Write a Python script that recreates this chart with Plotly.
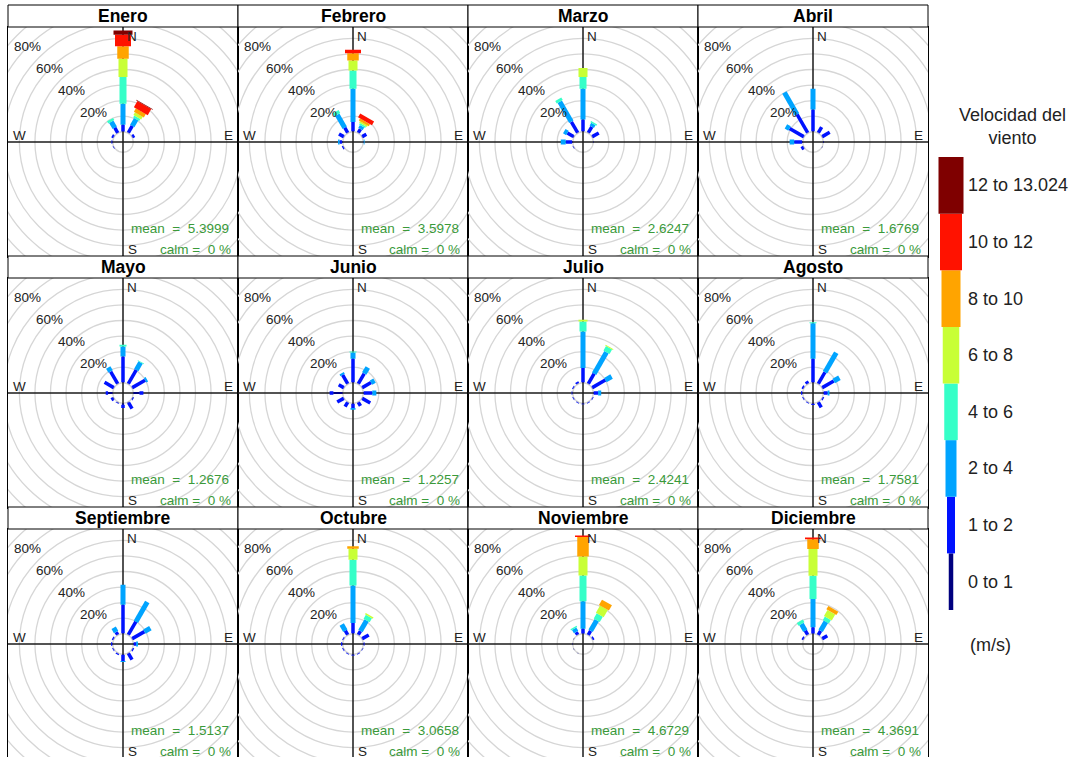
import math
import plotly.graph_objects as go

# ---------------- data ----------------
months = ["Enero", "Febrero", "Marzo", "Abril", "Mayo", "Junio", "Julio",
          "Agosto", "Septiembre", "Octubre", "Noviembre", "Diciembre"]
mean_speed = [5.3999, 3.5978, 2.6247, 1.6769, 1.2676, 1.2257, 2.4241,
              1.7581, 1.5137, 3.0658, 4.6729, 4.3691]
calm_pct = [0, 0, 0, 0, 0, 0, 0, 0, 0, 0, 0, 0]
directions = [0, 30, 60, 90, 120, 150, 180, 210, 240, 270, 300, 330]
speed_bins = ["0 to 1", "1 to 2", "2 to 4", "4 to 6", "6 to 8",
              "8 to 10", "10 to 12", "12 to 13.024"]
bin_colors = ["#00007F", "#0012FF", "#00A4FF", "#36FFC8", "#C8FF36",
              "#FFA400", "#FF1200", "#7F0000"]
grid_pct = [0, 10, 20, 30, 40, 50, 60, 70, 80, 90, 100, 110]
ring_labels = [20, 40, 60, 80]

# frequency (%) per direction (rows: 0,30,...,330 deg) and speed bin (columns)
enero = [
    [0.2, 4.3, 13.5, 17.1, 11.8, 8.1, 7.3, 2.8],
    [0.3, 5.0, 5.0, 1.5, 2.0, 2.5, 4.5, 0.5],
    [0.3, 1.5, 0, 0, 0, 0, 0, 0],
    [0, 0, 0, 0, 0, 0, 0, 0],
    [0, 0, 0, 0, 0, 0, 0, 0],
    [0, 0, 0, 0, 0, 0, 0, 0],
    [0, 0, 0, 0, 0, 0, 0, 0],
    [0, 0, 0, 0, 0, 0, 0, 0],
    [0.2, 0.3, 0, 0, 0, 0, 0, 0],
    [0.3, 0.5, 0, 0, 0, 0, 0, 0],
    [0.3, 1.2, 0, 0, 0, 0, 0, 0],
    [0.2, 3.8, 4.5, 1.5, 0, 0, 0, 0],
]
febrero = [
    [0.3, 5.9, 21.4, 11.8, 6.4, 4.7, 2.2, 0],
    [0.3, 2.7, 2.1, 1.1, 1.1, 1.5, 2.8, 0],
    [0.3, 3.0, 0, 0, 0, 0, 0, 0],
    [0.3, 0, 0.5, 0, 0, 0, 0, 0],
    [0, 0, 0, 0, 0, 0, 0, 0],
    [0, 0, 0, 0, 0, 0, 0, 0],
    [0, 0, 0, 0, 0, 0, 0, 0],
    [0, 0, 0, 0, 0, 0, 0, 0],
    [0.3, 0.8, 0, 0, 0, 0, 0, 0],
    [0.5, 1.5, 1.0, 0, 0, 0, 0, 0],
    [0.3, 3.5, 0, 0, 0, 0, 0, 0],
    [0.3, 3.7, 9.7, 2.1, 0, 0, 0, 0],
]
marzo = [
    [0.3, 7.6, 19.7, 7.5, 5.8, 0, 0, 0],
    [0.3, 4.4, 2.0, 1.0, 0, 0, 0, 0],
    [0.3, 4.8, 0, 0, 0, 0, 0, 0],
    [0.3, 0, 0, 0, 0, 0, 0, 0],
    [0, 0, 0, 0, 0, 0, 0, 0],
    [0, 0, 0, 0, 0, 0, 0, 0],
    [0, 0, 0, 0, 0, 0, 0, 0],
    [0, 0, 0, 0, 0, 0, 0, 0],
    [0.3, 0.3, 0, 0, 0, 0, 0, 0],
    [0.5, 4.0, 3.2, 0, 0, 0, 0, 0],
    [0.5, 4.5, 2.3, 0, 0, 0, 0, 0],
    [0.3, 8.1, 14.9, 1.9, 0, 0, 0, 0],
]
abril = [
    [0.3, 14.0, 13.3, 0, 0, 0, 0, 0],
    [0.3, 4.2, 0, 0, 0, 0, 0, 0],
    [0.3, 5.5, 0, 0, 0, 0, 0, 0],
    [0.5, 0, 0, 0, 0, 0, 0, 0],
    [0.3, 0, 0, 0, 0, 0, 0, 0],
    [0, 0, 0, 0, 0, 0, 0, 0],
    [0, 0, 0, 0, 0, 0, 0, 0],
    [0, 0, 0, 0, 0, 0, 0, 0],
    [0.3, 1.7, 0, 0, 0, 0, 0, 0],
    [0.5, 5.0, 2.9, 0, 0, 0, 0, 0],
    [0.3, 10.5, 2.7, 0, 0, 0, 0, 0],
    [0.3, 13.6, 16.3, 0, 0, 0, 0, 0],
]
mayo = [
    [0.3, 16.6, 6.4, 1.1, 0, 0, 0, 0],
    [0.3, 10.2, 5.5, 0.5, 0, 0, 0, 0],
    [0.3, 9.5, 1.3, 0, 0, 0, 0, 0],
    [4.0, 2.5, 0, 0, 0, 0, 0, 0],
    [0.5, 0.5, 0, 0, 0, 0, 0, 0],
    [0.5, 4.5, 0, 0, 0, 0, 0, 0],
    [1.0, 2.0, 0, 0, 0, 0, 0, 0],
    [0.5, 0.5, 0, 0, 0, 0, 0, 0],
    [0.5, 1.5, 0, 0, 0, 0, 0, 0],
    [3.0, 1.5, 0, 0, 0, 0, 0, 0],
    [0.3, 6.8, 0, 0, 0, 0, 0, 0],
    [0.3, 9.0, 3.1, 0, 0, 0, 0, 0],
]
junio = [
    [0.3, 15.1, 4.0, 0.7, 0, 0, 0, 0],
    [0.3, 7.5, 4.6, 0, 0, 0, 0, 0],
    [0.3, 6.5, 2.6, 0, 0, 0, 0, 0],
    [0.3, 5.5, 2.6, 0, 0, 0, 0, 0],
    [0.3, 5.9, 0, 0, 0, 0, 0, 0],
    [0.3, 2.7, 0, 0, 0, 0, 0, 0],
    [0.3, 2.8, 1.0, 0, 0, 0, 0, 0],
    [0.3, 3.3, 0, 0, 0, 0, 0, 0],
    [0.3, 4.8, 0, 0, 0, 0, 0, 0],
    [6.0, 2.4, 0, 0, 0, 0, 0, 0],
    [0.3, 3.7, 0, 0, 0, 0, 0, 0],
    [0.3, 6.5, 1.2, 0, 0, 0, 0, 0],
]
julio = [
    [0.3, 9.1, 23.6, 6.4, 1.1, 0, 0, 0],
    [0.3, 7.4, 15.9, 3.3, 0.7, 0, 0, 0],
    [0.3, 9.7, 4.6, 0, 0, 0, 0, 0],
    [0.3, 2.8, 2.0, 0, 0, 0, 0, 0],
    [0.3, 0.4, 0, 0, 0, 0, 0, 0],
    [0.3, 0.4, 0, 0, 0, 0, 0, 0],
    [0.3, 0.3, 0, 0, 0, 0, 0, 0],
    [0.3, 0.4, 0, 0, 0, 0, 0, 0],
    [0.3, 0.4, 0, 0, 0, 0, 0, 0],
    [0.3, 0.4, 0, 0, 0, 0, 0, 0],
    [0.3, 0.6, 0, 0, 0, 0, 0, 0],
    [0.3, 1.2, 0, 0, 0, 0, 0, 0],
]
agosto = [
    [0.3, 15.1, 22.9, 0.5, 0, 0, 0, 0],
    [0.3, 8.5, 14.5, 0, 0, 0, 0, 0],
    [0.3, 8.5, 4.2, 0, 0, 0, 0, 0],
    [0.3, 2.5, 1.2, 0, 0, 0, 0, 0],
    [0.3, 0.8, 0, 0, 0, 0, 0, 0],
    [0.3, 3.7, 0, 0, 0, 0, 0, 0],
    [0.3, 0.8, 0, 0, 0, 0, 0, 0],
    [0.3, 0.5, 0, 0, 0, 0, 0, 0],
    [0.3, 0.5, 0, 0, 0, 0, 0, 0],
    [0.3, 0.8, 0, 0, 0, 0, 0, 0],
    [0.3, 1.0, 0, 0, 0, 0, 0, 0],
    [0.3, 1.7, 0, 0, 0, 0, 0, 0],
]
septiembre = [
    [0.3, 18.3, 12.9, 0, 0, 0, 0, 0],
    [0.3, 9.7, 14.6, 0, 0, 0, 0, 0],
    [0.3, 9.0, 4.4, 0, 0, 0, 0, 0],
    [0.3, 1.5, 1.2, 0, 0, 0, 0, 0],
    [0.3, 0.8, 0, 0, 0, 0, 0, 0],
    [0.3, 4.7, 0, 0, 0, 0, 0, 0],
    [0.3, 4.0, 0.6, 0, 0, 0, 0, 0],
    [0.3, 0.8, 0, 0, 0, 0, 0, 0],
    [0.3, 0.5, 0, 0, 0, 0, 0, 0],
    [0.3, 0.8, 0, 0, 0, 0, 0, 0],
    [0.3, 0.8, 0, 0, 0, 0, 0, 0],
    [0.3, 2.0, 3.1, 0, 0, 0, 0, 0],
]
octubre = [
    [0.3, 6.6, 24.1, 16.5, 7.1, 1.7, 0, 0],
    [0.3, 2.7, 7.9, 2.9, 1.0, 0, 0, 0],
    [0.3, 4.8, 0, 0, 0, 0, 0, 0],
    [0.3, 0.5, 0, 0, 0, 0, 0, 0],
    [0.3, 0.3, 0, 0, 0, 0, 0, 0],
    [0.3, 0.5, 0, 0, 0, 0, 0, 0],
    [0.3, 0.5, 0, 0, 0, 0, 0, 0],
    [0.3, 0.5, 0, 0, 0, 0, 0, 0],
    [0.3, 0.5, 0, 0, 0, 0, 0, 0],
    [0.3, 0.8, 0, 0, 0, 0, 0, 0],
    [0.3, 0.5, 0, 0, 0, 0, 0, 0],
    [0.3, 3.0, 4.6, 0, 0, 0, 0, 0],
]
noviembre = [
    [0.2, 3.0, 17.6, 16.7, 12.2, 12.4, 1.1, 0],
    [0.2, 3.0, 7.9, 3.9, 5.3, 3.9, 0, 0],
    [0.3, 1.0, 0, 0, 0, 0, 0, 0],
    [0, 0, 0, 0, 0, 0, 0, 0],
    [0, 0, 0, 0, 0, 0, 0, 0],
    [0, 0, 0, 0, 0, 0, 0, 0],
    [0, 0, 0, 0, 0, 0, 0, 0],
    [0.3, 0, 0, 0, 0, 0, 0, 0],
    [0.3, 0, 0, 0, 0, 0, 0, 0],
    [0.3, 0, 0, 0, 0, 0, 0, 0],
    [0.3, 0, 0, 0, 0, 0, 0, 0],
    [0.3, 2.0, 2.5, 0.8, 0, 0, 0, 0],
]
diciembre = [
    [0.2, 3.9, 18.2, 15.0, 17.1, 6.4, 1.1, 0],
    [0.2, 3.0, 6.8, 2.5, 4.5, 2.5, 0, 0],
    [0.3, 3.7, 0, 0, 0, 0, 0, 0],
    [0, 0, 0, 0, 0, 0, 0, 0],
    [0, 0, 0, 0, 0, 0, 0, 0],
    [0, 0, 0, 0, 0, 0, 0, 0],
    [0, 0, 0, 0, 0, 0, 0, 0],
    [0, 0, 0, 0, 0, 0, 0, 0],
    [0, 0, 0, 0, 0, 0, 0, 0],
    [0, 0, 0, 0, 0, 0, 0, 0],
    [0.3, 1.0, 0, 0, 0, 0, 0, 0],
    [0.3, 3.0, 5.0, 2.0, 0, 0, 0, 0],
]
freqs = [enero, febrero, marzo, abril, mayo, junio, julio, agosto,
         septiembre, octubre, noviembre, diciembre]

# ---------------- geometry / style ----------------
W, H = 1073, 757
PX_PER_PCT = 1.556      # pixels per 1 % of frequency
OFFSET = 6.6            # inner hole (in % units)
PANEL = 230
ROWSTEP = 251
STRIP = 22
paddle_px = [2, 3.5, 5, 7, 9, 11.5, 16, 19]
key_px = [4.5, 8, 11, 13.5, 16.5, 19, 22, 25]
FONT = "Liberation Sans, Arial, sans-serif"
GREEN = "#3a9a3a"
NB = "\u00a0"


def fx(px):
    return px / W


def fy(py):
    return 1 - py / H


fig = go.Figure()
layout = {}
shapes = []
annotations = []

for i, month in enumerate(months):
    r, c = divmod(i, 4)
    left = 8 + PANEL * c
    stop = 5 + ROWSTEP * r
    top = stop + STRIP
    bottom = min(top + PANEL, H)
    cx = left + PANEL / 2
    cy = top + PANEL / 2
    sfx = "" if i == 0 else str(i + 1)
    xa, ya = "x" + sfx, "y" + sfx
    U = (PANEL / 2) / PX_PER_PCT
    ylo = -(bottom - cy) / PX_PER_PCT
    yhi = (cy - top) / PX_PER_PCT
    last_row = bottom >= H
    layout["xaxis" + sfx] = dict(domain=[fx(left), fx(left + PANEL)], range=[-U, U],
                                 anchor=ya, showline=True, mirror=not last_row,
                                 side="top" if last_row else "bottom",
                                 linecolor="black", linewidth=1, showgrid=False,
                                 zeroline=False, showticklabels=False, ticks="",
                                 fixedrange=True)
    layout["yaxis" + sfx] = dict(domain=[fy(bottom), fy(top)], range=[ylo, yhi],
                                 anchor=xa, showline=True, mirror=True,
                                 linecolor="black", linewidth=1, showgrid=False,
                                 zeroline=False, showticklabels=False, ticks="",
                                 fixedrange=True)
    # grid circles
    for g in grid_pct:
        R = OFFSET + g
        shapes.append(dict(type="circle", xref=xa, yref=ya, x0=-R, x1=R, y0=-R, y1=R,
                           line=dict(color="#D6D6D6", width=1.3), layer="below"))
    # cross lines
    shapes.append(dict(type="line", xref=xa, yref=ya, x0=-U, x1=U, y0=0, y1=0,
                       line=dict(color="#1a1a1a", width=1.5), layer="below"))
    shapes.append(dict(type="line", xref=xa, yref=ya, x0=0, x1=0, y0=ylo, y1=yhi,
                       line=dict(color="#1a1a1a", width=1.5), layer="below"))
    # strip
    shapes.append(dict(type="rect", xref="paper", yref="paper",
                       x0=fx(left), x1=fx(left + PANEL), y0=fy(top), y1=fy(stop),
                       line=dict(color="black", width=1), fillcolor="white"))
    annotations.append(dict(text="<b>%s</b>" % month, xref="paper", yref="paper",
                            x=fx(cx), y=fy(stop + STRIP / 2), xanchor="center",
                            yanchor="middle", showarrow=False,
                            font=dict(family=FONT, size=17.5, color="black")))
    # ring labels
    for p in ring_labels:
        d = OFFSET + p
        annotations.append(dict(text="%d%%" % p, xref=xa, yref=ya,
                                x=-d * math.sin(math.pi / 4), y=d * math.cos(math.pi / 4),
                                xanchor="center", yanchor="middle", showarrow=False,
                                font=dict(family=FONT, size=13.5, color="#222")))
    # compass letters
    for txt, dx, dy, xan in [("N", 1.5, -105.7, "left"), ("E", 112, -6.4, "right"),
                             ("W", -112, -6.4, "left"), ("S", 3, 107.6, "left")]:
        annotations.append(dict(text=txt, xref="paper", yref="paper",
                                x=fx(cx + dx), y=fy(cy + dy), xanchor=xan,
                                yanchor="middle", showarrow=False,
                                font=dict(family=FONT, size=13.5, color="#222")))
    annotations.append(dict(text="mean%s=%s%.4f" % (NB * 2, NB * 2, mean_speed[i]),
                            xref="paper", yref="paper", x=fx(cx + 108), y=fy(cy + 86),
                            xanchor="right", yanchor="middle", showarrow=False,
                            font=dict(family=FONT, size=13.5, color=GREEN)))
    annotations.append(dict(text="calm%s=%s%d%s%%" % (NB, NB * 2, calm_pct[i], NB),
                            xref="paper", yref="paper", x=fx(cx + 109.5), y=fy(cy + 107.5),
                            xanchor="right", yanchor="middle", showarrow=False,
                            font=dict(family=FONT, size=13.5, color=GREEN)))

    # polar overlay with the paddles
    rho = min(PANEL / 2, H - cy)
    Ur = rho / PX_PER_PCT
    pkey = "polar" + sfx
    layout[pkey] = dict(domain=dict(x=[fx(cx - rho), fx(cx + rho)],
                                    y=[fy(cy + rho), fy(cy - rho)]),
                        bgcolor="rgba(0,0,0,0)", hole=OFFSET / Ur,
                        radialaxis=dict(range=[0, Ur - OFFSET], visible=False),
                        angularaxis=dict(rotation=90, direction="clockwise",
                                         visible=False))
    for j in range(len(speed_bins)):
        rr, tt = [], []
        for d, row in zip(directions, freqs[i]):
            if row[j] > 0:
                base = sum(row[:j])
                rr += [base, base + row[j], None]
                tt += [d, d, None]
        if rr:
            fig.add_trace(go.Scatterpolar(r=rr, theta=tt, mode="lines", subplot=pkey,
                                          line=dict(color=bin_colors[j], width=paddle_px[j]),
                                          connectgaps=False, showlegend=False,
                                          hoverinfo="skip"))

# ---------------- key ----------------
KEY_TOP, KEY_BOT, KEY_CX = 157, 610, 951
layout["xaxis13"] = dict(domain=[fx(KEY_CX - 20), fx(KEY_CX + 20)], range=[-1, 1],
                         anchor="y13", visible=False, fixedrange=True)
layout["yaxis13"] = dict(domain=[fy(KEY_BOT), fy(KEY_TOP)], range=[0, len(speed_bins)],
                         anchor="x13", visible=False, fixedrange=True)
for j, lab in enumerate(speed_bins):
    fig.add_trace(go.Scatter(x=[0, 0], y=[j, j + 1], mode="lines", xaxis="x13", yaxis="y13",
                             line=dict(color=bin_colors[j], width=key_px[j]),
                             showlegend=False, hoverinfo="skip"))
    annotations.append(dict(text=lab, xref="paper", yref="y13", x=fx(966), y=j + 0.5,
                            xanchor="left", yanchor="middle", showarrow=False,
                            font=dict(family=FONT, size=18, color="#222")))
annotations.append(dict(text="Velocidad del<br>viento", xref="paper", yref="paper",
                        x=fx(1012), y=fy(127), xanchor="center", yanchor="middle",
                        showarrow=False, font=dict(family=FONT, size=18, color="#222")))
annotations.append(dict(text="(m/s)", xref="paper", yref="paper", x=fx(990), y=fy(645),
                        xanchor="center", yanchor="middle", showarrow=False,
                        font=dict(family=FONT, size=18, color="#222")))

fig.update_layout(width=W, height=H, margin=dict(l=0, r=0, t=0, b=0),
                  paper_bgcolor="white", plot_bgcolor="white",
                  shapes=shapes, annotations=annotations, showlegend=False, **layout)

fig.write_html("out.html", config={"displayModeBar": False},
               post_script="document.body.style.margin='0px';")
